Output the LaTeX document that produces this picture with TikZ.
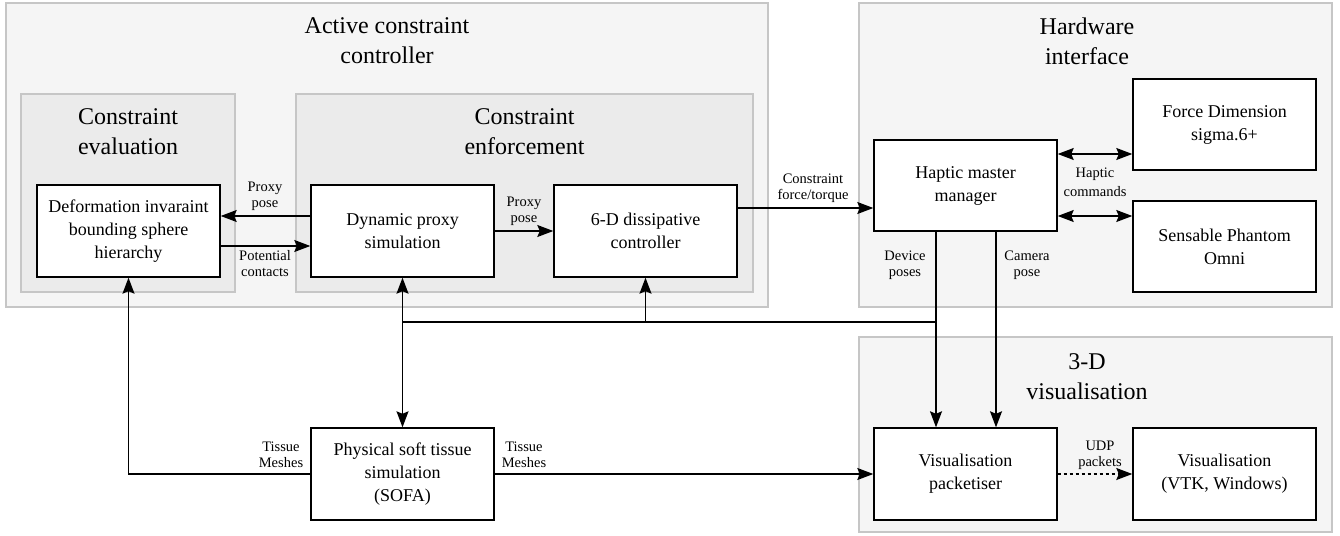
\documentclass[tikz,border=0pt]{standalone}
\usepackage{fontspec}
\setmainfont{Liberation Serif}
\newfontfamily\tnr{Liberation Serif}
\usetikzlibrary{arrows.meta}
\definecolor{grpborder}{HTML}{C6C6C6}
\definecolor{outerfill}{HTML}{F5F5F5}
\definecolor{innerfill}{HTML}{EBEBEB}
\tikzset{
  outergrp/.style={draw=grpborder, fill=outerfill, line width=1.5pt, inner sep=0pt},
  innergrp/.style={draw=grpborder, fill=innerfill, line width=1.5pt, inner sep=0pt},
  title/.style={align=center, font=\tnr\fontsize{24}{30}\selectfont, inner sep=0pt},
  blk/.style={draw=black, fill=white, line width=1.4pt, minimum width=183pt, minimum height=92pt,
              align=center, font=\tnr\fontsize{18}{23}\selectfont, inner sep=0pt},
  lbl/.style={align=center, font=\tnr\fontsize{14.5}{16}\selectfont, inner sep=0pt},
  arr/.style={line width=1.3pt, -{Stealth[length=16pt,width=12pt,inset=2.5pt]}},
  darr/.style={line width=1.3pt, {Stealth[length=16pt,width=12pt,inset=2.5pt]}-{Stealth[length=16pt,width=12pt,inset=2.5pt]}},
  ln/.style={line width=1.3pt},
}
\begin{document}
\begin{tikzpicture}[x=1pt,y=-1pt]
\useasboundingbox (0,0) rectangle (1340,535);
% groups
\node[outergrp, minimum width=762pt, minimum height=304pt] (acc) at (387,155) {};
\node[outergrp, minimum width=473pt, minimum height=304pt] (hw) at (1095.5,155) {};
\node[outergrp, minimum width=473pt, minimum height=195pt] (vis3d) at (1095.5,434.5) {};
\node[innergrp, minimum width=214pt, minimum height=198pt] (ceval) at (128,193) {};
\node[innergrp, minimum width=457pt, minimum height=198pt] (cenf) at (524.5,193) {};
% titles
\node[title] (tacc) at (387,41) {Active constraint\\controller};
\node[title] (thw) at (1087,41) {Hardware\\interface};
\node[title] (tvis) at (1087,376.5) {3-D\\visualisation};
\node[title] (tceval) at (128,132) {Constraint\\evaluation};
\node[title] (tcenf) at (524.5,132) {Constraint\\enforcement};
% blocks
\node[blk] (dibsh) at (128.5,231) {Deformation invaraint\\bounding sphere\\hierarchy};
\node[blk] (dps) at (402.5,231) {Dynamic proxy\\simulation};
\node[blk] (ddc) at (645.5,231) {6-D dissipative\\controller};
\node[blk, minimum height=91pt] (hmm) at (965.5,185.5) {Haptic master\\manager};
\node[blk, minimum height=91pt] (fd) at (1224.5,124.5) {Force Dimension\\sigma.6+};
\node[blk, minimum height=91pt] (spo) at (1224.5,246.5) {Sensable Phantom\\Omni};
\node[blk] (psts) at (402.5,474) {Physical soft tissue\\simulation\\(SOFA)};
\node[blk] (vp) at (965.5,474) {Visualisation\\packetiser};
\node[blk] (vtk) at (1224.5,474) {Visualisation\\(VTK, Windows)};
% connectors
\draw[arr] ([yshift=15pt]dps.west) -- ([yshift=15pt]dibsh.east);
\draw[arr] ([yshift=-15pt]dibsh.east) -- ([yshift=-15pt]dps.west);
\draw[arr] (dps.east) -- (ddc.west);
\coordinate (cf) at ([yshift=23pt]ddc.east);
\draw[arr] (cf) -- (cf -| hmm.west);
\coordinate (hc1) at ([yshift=31.5pt]hmm.east);
\coordinate (hc2) at ([yshift=-30.5pt]hmm.east);
\draw[darr] (hc1) -- (hc1 -| fd.west);
\draw[darr] (hc2) -- (hc2 -| spo.west);
\coordinate (devp) at ([xshift=-29.5pt]hmm.south);
\coordinate (camp) at ([xshift=30.5pt]hmm.south);
\draw[arr] (devp) -- (devp |- vp.north);
\draw[arr] (camp) -- (camp |- vp.north);
\coordinate (busR) at (devp |- 0,322);
\draw[ln] (busR) -- (busR -| dps.south);
\draw[arr] (busR -| ddc.south) -- (ddc.south);
\draw[arr] (busR -| dps.south) -- (dps.south);
\draw[arr] (busR -| dps.south) -- (psts.north);
\draw[arr] (psts.west) -- (psts.west -| dibsh.south) -- (dibsh.south);
\draw[arr] (psts.east) -- (vp.west);
\draw[arr, dashed] (vp.east) -- (vtk.west);
% labels
\node[lbl] (lpp1) at (265,196) {Proxy\\pose};
\node[lbl] (lpc) at (265,264) {Potential\\contacts};
\node[lbl] (lpp2) at (524,211) {Proxy\\pose};
\node[lbl] (lcft) at (813,188.5) {Constraint\\force/torque};
\node[lbl, font=\tnr\fontsize{14.5}{19}\selectfont] (lhc) at (1095,182.5) {Haptic\\commands};
\node[lbl] (ldp) at (905,265) {Device\\poses};
\node[lbl] (lcp) at (1027,265) {Camera\\pose};
\node[lbl] (ltm1) at (281,455) {Tissue\\Meshes};
\node[lbl] (ltm2) at (524,455) {Tissue\\Meshes};
\node[lbl] (ludp) at (1100,455) {UDP\\packets};
\end{tikzpicture}
\end{document}
